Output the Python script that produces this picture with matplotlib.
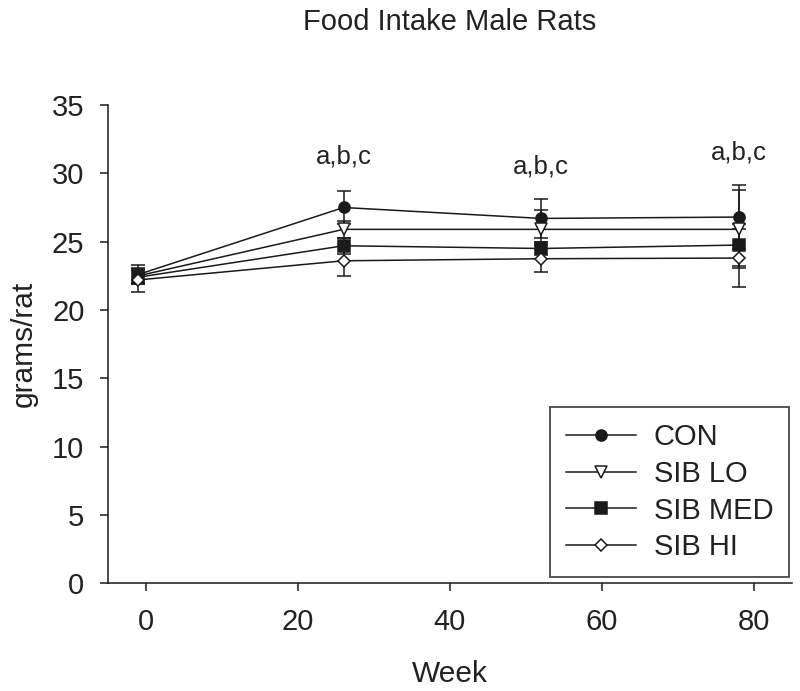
import matplotlib
matplotlib.use("Agg")
import matplotlib.pyplot as plt
from matplotlib.lines import Line2D

# ---------------------------------------------------------------
# Food intake, male rats — mean grams/rat with error bars
# ---------------------------------------------------------------
plt.rcParams["font.family"] = ["Liberation Sans", "DejaVu Sans"]

INK = "#1a1a1a"
TXT = "#222222"

weeks = [-1, 26, 52, 78]

con     = [22.6, 27.5, 26.7, 26.8]
con_err = [0.7, 1.2, 1.4, 2.35]

lo      = [22.5, 25.9, 25.9, 25.9]
lo_err  = [0.5, 0.6, 1.45, 2.85]

med     = [22.4, 24.7, 24.5, 24.75]
med_err = [0.5, 0.6, 0.45, 1.55]

hi      = [22.2, 23.6, 23.75, 23.8]
hi_err  = [0.9, 1.1, 1.0, 2.1]

# significance letters above each time point
sig_weeks  = [26, 52, 78]
sig_y      = [31.2, 30.5, 31.5]
sig_labels = ["a,b,c", "a,b,c", "a,b,c"]

series = [
    ("CON",     con, con_err, "o", INK),
    ("SIB LO",  lo,  lo_err,  "v", "white"),
    ("SIB MED", med, med_err, "s", INK),
    ("SIB HI",  hi,  hi_err,  "D", "white"),
]

fig = plt.figure(figsize=(8, 6.91), dpi=100)
ax = fig.add_axes([0.135, 0.156, 0.855, 0.692])

handles = []
for label, vals, err, mk, face in series:
    ms = 6.5 if mk == "D" else 8
    style = dict(color=INK, linewidth=1.1, marker=mk, markersize=ms,
                 markerfacecolor=face, markeredgecolor=INK, markeredgewidth=1.1)
    ax.errorbar(weeks, vals, yerr=err, ecolor=INK, elinewidth=1.1,
                capsize=5, capthick=1.1, **style)
    # legend entry without the error bar
    handles.append(Line2D([], [], label=label, **style))

for x, y, s in zip(sig_weeks, sig_y, sig_labels):
    ax.text(x, y, s, ha="center", va="center", fontsize=18.5, color=TXT)

ax.set_xlim(-5, 85)
ax.set_ylim(0, 35)
ax.set_xticks([0, 20, 40, 60, 80])
ax.set_yticks(range(0, 36, 5))

for side in ("top", "right"):
    ax.spines[side].set_visible(False)
for side in ("left", "bottom"):
    ax.spines[side].set_color(INK)
    ax.spines[side].set_linewidth(1.1)

ax.tick_params(direction="out", length=6, width=1.1, colors=INK,
               labelsize=21, labelcolor=TXT)
ax.tick_params(axis="y", pad=11)
ax.tick_params(axis="x", pad=12)

ax.set_xlabel("Week", fontsize=21.5, color=TXT, labelpad=17)
ax.set_ylabel("grams/rat", fontsize=21.5, color=TXT, labelpad=10)

fig.text(0.5625, 0.968, "Food Intake Male Rats", ha="center", va="center",
         fontsize=21, color=TXT)

leg = ax.legend(handles=handles, loc="lower right", bbox_to_anchor=(0.996, 0.012),
                borderaxespad=0, fontsize=21, frameon=True, fancybox=False,
                edgecolor=INK, handlelength=2.4, borderpad=0.55,
                labelspacing=0.3, handletextpad=0.6)
leg.get_frame().set_linewidth(1.3)
for t in leg.get_texts():
    t.set_color(TXT)

fig.savefig("out.png", dpi=100, facecolor="white")
